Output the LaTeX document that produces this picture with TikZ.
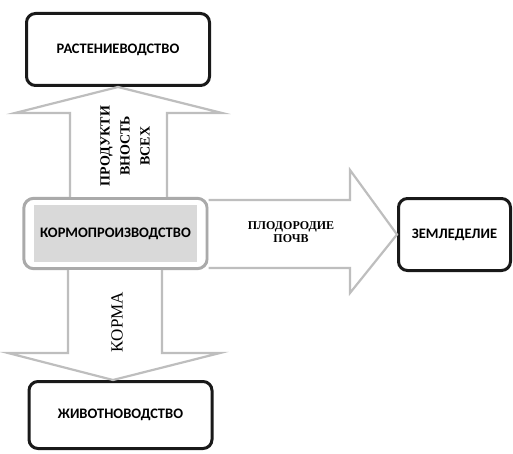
\documentclass[tikz,border=0pt]{standalone}
\usepackage{fontspec}
\setmainfont{Liberation Serif}
\newfontfamily\boxfont{Carlito}
\usetikzlibrary{calc, fit}
\definecolor{arrowgray}{RGB}{190,190,190}
\definecolor{framegray}{RGB}{170,170,170}
\definecolor{fillgray}{RGB}{217,217,217}

\begin{document}
\begin{tikzpicture}[x=1pt, y=1pt,
		sector/.style={draw=black!90, line width=3pt, rounded corners=9pt, fill=white,
			minimum width=183pt, minimum height=72pt, font=\boxfont\bfseries\fontsize{14.5}{16}\selectfont},
		blockarrow/.style={draw=arrowgray, line width=2.2pt, fill=white}]
	\useasboundingbox (0,0) rectangle (513,453);

	% sectors
	\node [sector] (rast) at (118,403.5) {РАСТЕНИЕВОДСТВО};
	\node [sector, minimum width=112pt] (zeml) at (454.5,218.5) {ЗЕМЛЕДЕЛИЕ};
	\node [sector, minimum height=67pt] (zhiv) at (120.5,38) {ЖИВОТНОВОДСТВО};

	\node [fill=fillgray, minimum width=163pt, minimum height=57pt,
		font=\boxfont\bfseries\fontsize{14.5}{16}\selectfont] (kormin) at (115.5,219.5) {КОРМОПРОИЗВОДСТВО};
	\node [draw=framegray, line width=3pt, rounded corners=10pt, fit=(kormin),
		inner xsep=10pt, inner ysep=6.5pt] (korm) {};

	% block arrows
	\draw [blockarrow] (korm.north -| 70,0) -- (70,340) -- (15,340) -- (rast.south)
		-- (222,340) -- (167,340) -- (korm.north -| 167,0);
	\draw [blockarrow] (korm.east |- 0,253) -- (350,253) -- (350,283) -- (zeml.west)
		-- (350,160) -- (350,185) -- (korm.east |- 0,185);
	\draw [blockarrow] (korm.south -| 68,0) -- (68,100) -- (8,100) -- (113,0 |- zhiv.north)
		-- (220,100) -- (162,100) -- (korm.south -| 162,0);

	\node [rotate=90, align=center, font=\bfseries\fontsize{14}{20}\selectfont] (prod) at (125,307) {ПРОДУКТИ\\ВНОСТЬ\\ВСЕХ};
	\node [align=center, font=\bfseries\fontsize{12}{13}\selectfont] (plod) at (291,221) {ПЛОДОРОДИЕ\\ПОЧВ};
	\node [rotate=90, font=\fontsize{17}{19}\selectfont] (korma) at (117,131) {КОРМА};
\end{tikzpicture}
\end{document}
